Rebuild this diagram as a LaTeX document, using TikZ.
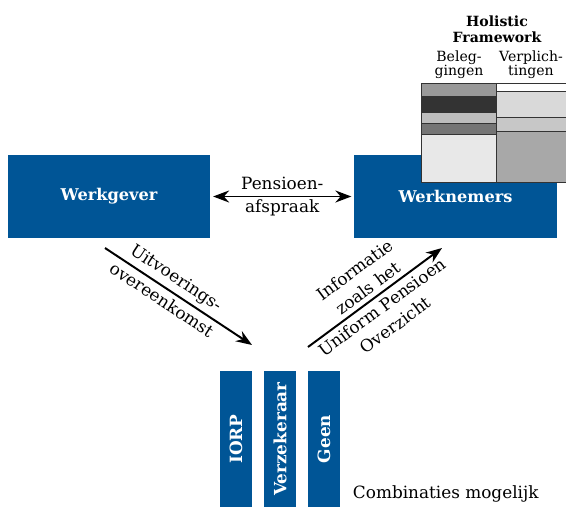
\documentclass[tikz,border=0pt]{standalone}
\usepackage{fontspec}
\setmainfont{DejaVu Serif}
\usepackage{tikz}
\usetikzlibrary{arrows.meta, positioning}

\definecolor{pensionblue}{RGB}{0,85,150}

\begin{document}
\begin{tikzpicture}[
      x=0.025cm, y=-0.025cm,
      party/.style={
        rectangle,
        fill=pensionblue,
        text=white,
        font=\fontsize{11.5}{13}\selectfont\bfseries,
        minimum width=5.05cm,
        minimum height=2.075cm
      },
      provider/.style={
        rectangle,
        fill=pensionblue,
        text=white,
        font=\fontsize{12}{14}\selectfont\bfseries,
        rotate=90,
        minimum width=3.4cm,
        minimum height=0.8cm,
        inner sep=0pt
      },
      flowtext/.style={
        align=center,
        font=\fontsize{12}{16}\selectfont
      },
      columntext/.style={
        align=center,
        font=\fontsize{10}{10}\selectfont,
        inner sep=0pt
      },
      stripe/.style={
        draw=black!80,
        line width=0.6pt
      },
      arrow/.style={
        line width=1.4pt,
        -{Stealth[length=4mm, width=3mm]}
      },
      twoarrow/.style={
        line width=1.4pt,
        {Stealth[length=4mm, width=3mm]}-{Stealth[length=4mm, width=3mm]}
      }
    ]
    \useasboundingbox (0,0) rectangle (566,507);

    % Party Nodes
    \node (werkgever) [party] at (109,196.5) {Werkgever};
    \node (werknemers) [party] at (455.5,196.5) {Werknemers};

    % Holistic Framework
    \node (hfTitle) [columntext, font=\fontsize{10}{11.5}\selectfont\bfseries] at (497,29) {Holistic\\Framework};
    \node (hfAssets) [columntext] at (459,65) {Beleg-\\gingen};
    \node (hfLiabilities) [columntext] at (531,65) {Verplich-\\tingen};
    \filldraw [stripe, fill=black!40] (421,83) rectangle (496,96);
    \filldraw [stripe, fill=black!80] (421,96) rectangle (496,112);
    \filldraw [stripe, fill=black!26] (421,112) rectangle (496,123);
    \filldraw [stripe, fill=black!54] (421,123) rectangle (496,134);
    \filldraw [stripe, fill=black!9] (421,134) rectangle (496,182);
    \filldraw [stripe, fill=white] (496,83) rectangle (568,91);
    \filldraw [stripe, fill=black!15] (496,91) rectangle (568,117);
    \filldraw [stripe, fill=black!22] (496,117) rectangle (568,131);
    \filldraw [stripe, fill=black!34] (496,131) rectangle (568,182);

    % Provider Nodes
    \node (iorp) [provider] at (236,439) {IORP};
    \node (verzekeraar) [provider] at (280,439) {Verzekeraar};
    \node (geen) [provider] at (324,439) {Geen};
    \node (combinaties) [flowtext, anchor=west] at (348,494) {Combinaties mogelijk};

    % Arrow ends
    \coordinate (uvoStart) at (105,248);
    \coordinate (uvoEnd) at (252,345);
    \coordinate (upoStart) at (308,347);
    \coordinate (upoEnd) at (442,248);

    % Arrows
    \draw [twoarrow, shorten <=2pt, shorten >=2pt] (werkgever.east) -- node (pensioenafspraak) [flowtext] {Pensioen-\\afspraak} (werknemers.west);
    \draw [arrow] (uvoStart) -- node (uitvoering) [flowtext, sloped, above, pos=0.43, inner sep=3pt] {Uitvoerings-}
      node (overeenkomst) [flowtext, sloped, below, pos=0.43, inner sep=3pt] {overeenkomst} (uvoEnd);
    \draw [arrow] (upoStart) -- node (informatie) [flowtext, sloped, above, inner sep=3pt] {Informatie\\zoals het}
      node (upo) [flowtext, sloped, below, inner sep=3pt] {Uniform Pensioen\\Overzicht} (upoEnd);

    \end{tikzpicture}
\end{document}
